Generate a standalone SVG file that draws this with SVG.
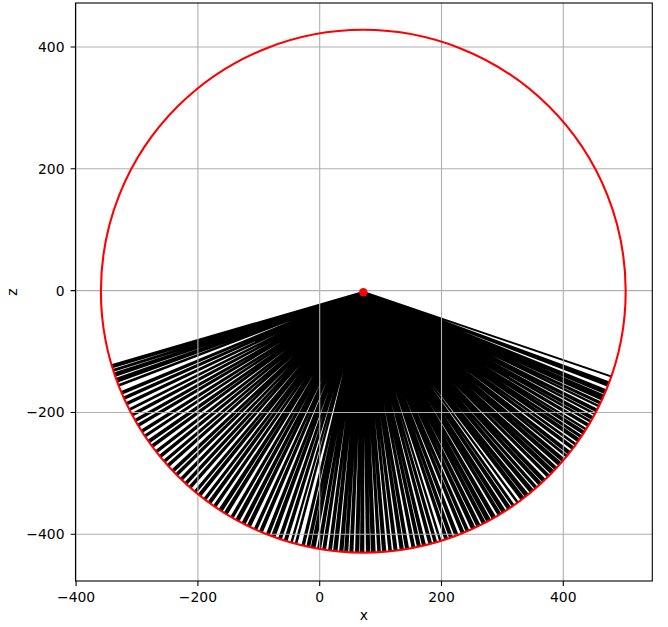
<svg xmlns="http://www.w3.org/2000/svg" xmlns:xlink="http://www.w3.org/1999/xlink" width="668" height="627" viewBox="0 0 668 627">
<style>
.grid{stroke:#b0b0b0;stroke-width:1.1;fill:none}
.tick{stroke:#000;stroke-width:1.1}
.lbl{font-family:"DejaVu Sans",Verdana,sans-serif;font-size:13.9px;fill:#000}
</style>
<defs>
<clipPath id="cc"><ellipse cx="363.3" cy="291.2" rx="262.4" ry="261.4"/></clipPath>
<polygon id="a30" points="191,0 600,2.14 600,-2.14"/>
<polygon id="a35" points="163.7,0 600,2.67 600,-2.67"/>
<polygon id="a40" points="143.2,0 600,3.19 600,-3.19"/>
<polygon id="a45" points="127.3,0 600,3.71 600,-3.71"/>
<polygon id="a50" points="114.6,0 600,4.24 600,-4.24"/>
<polygon id="a55" points="104.2,0 600,4.76 600,-4.76"/>
<polygon id="a60" points="95.5,0 600,5.28 600,-5.28"/>
<polygon id="a70" points="81.9,0 600,6.33 600,-6.33"/>
<polygon id="a75" points="76.4,0 600,6.85 600,-6.85"/>
</defs>
<rect width="668" height="627" fill="#fff"/>
<g id="fan" clip-path="url(#cc)">
<path d="M363.3,292 L623.6,380.6 A275,275 0 0 1 99.2,368.7 Z" fill="#000" stroke="#000" stroke-width="2" stroke-linejoin="round"/>
<g transform="translate(363.3 292)" fill="#fff">
<use href="#a70" transform="rotate(19.5)"/>
<use href="#a55" transform="rotate(21.5)"/>
<use href="#a30" transform="rotate(23)"/>
<use href="#a35" transform="rotate(24.6)"/>
<use href="#a30" transform="rotate(25.5)"/>
<use href="#a40" transform="rotate(26.3)"/>
<use href="#a30" transform="rotate(27.4)"/>
<use href="#a40" transform="rotate(28.2)"/>
<use href="#a30" transform="rotate(29.3)"/>
<use href="#a35" transform="rotate(30.1)"/>
<use href="#a40" transform="rotate(31.2)"/>
<use href="#a30" transform="rotate(32)"/>
<use href="#a35" transform="rotate(33.1)"/>
<use href="#a30" transform="rotate(34)"/>
<use href="#a40" transform="rotate(35.2)"/>
<use href="#a35" transform="rotate(36.1)"/>
<use href="#a45" transform="rotate(37.3)"/>
<use href="#a30" transform="rotate(38.5)"/>
<use href="#a40" transform="rotate(39.4)"/>
<use href="#a30" transform="rotate(40.6)"/>
<use href="#a40" transform="rotate(41.9)"/>
<use href="#a30" transform="rotate(43)"/>
<use href="#a35" transform="rotate(44.3)"/>
<use href="#a45" transform="rotate(45.5)"/>
<use href="#a30" transform="rotate(46.8)"/>
<use href="#a40" transform="rotate(48)"/>
<use href="#a35" transform="rotate(49.1)"/>
<use href="#a40" transform="rotate(50.5)"/>
<use href="#a30" transform="rotate(51.8)"/>
<use href="#a50" transform="rotate(53.2)"/>
<use href="#a50" transform="rotate(54.3)"/>
<use href="#a35" transform="rotate(55.4)"/>
<use href="#a40" transform="rotate(56.7)"/>
<use href="#a30" transform="rotate(58)"/>
<use href="#a45" transform="rotate(59.2)"/>
<use href="#a35" transform="rotate(60.6)"/>
<use href="#a30" transform="rotate(61.9)"/>
<use href="#a40" transform="rotate(63.1)"/>
<use href="#a35" transform="rotate(64.4)"/>
<use href="#a45" transform="rotate(65.8)"/>
<use href="#a35" transform="rotate(67)"/>
<use href="#a50" transform="rotate(68.3)"/>
<use href="#a40" transform="rotate(69.7)"/>
<use href="#a35" transform="rotate(70.9)"/>
<use href="#a55" transform="rotate(72.2)"/>
<use href="#a45" transform="rotate(73.3)"/>
<use href="#a40" transform="rotate(74.5)"/>
<use href="#a50" transform="rotate(75.8)"/>
<use href="#a35" transform="rotate(77.1)"/>
<use href="#a40" transform="rotate(78.3)"/>
<use href="#a50" transform="rotate(79.6)"/>
<use href="#a35" transform="rotate(80.9)"/>
<use href="#a45" transform="rotate(82.2)"/>
<use href="#a40" transform="rotate(83.5)"/>
<use href="#a45" transform="rotate(84.7)"/>
<use href="#a35" transform="rotate(86)"/>
<use href="#a40" transform="rotate(87.1)"/>
<use href="#a30" transform="rotate(88.4)"/>
<use href="#a40" transform="rotate(89.6)"/>
<use href="#a30" transform="rotate(90.8)"/>
<use href="#a40" transform="rotate(92)"/>
<use href="#a35" transform="rotate(93.2)"/>
<use href="#a30" transform="rotate(94.3)"/>
<use href="#a40" transform="rotate(95.5)"/>
<use href="#a35" transform="rotate(96.8)"/>
<use href="#a45" transform="rotate(98)"/>
<use href="#a35" transform="rotate(99.2)"/>
<use href="#a40" transform="rotate(100.4)"/>
<use href="#a30" transform="rotate(101.7)"/>
<use href="#a40" transform="rotate(102.8)"/>
<use href="#a70" transform="rotate(104.2)"/>
<use href="#a45" transform="rotate(105.5)"/>
<use href="#a55" transform="rotate(106.6)"/>
<use href="#a45" transform="rotate(108)"/>
<use href="#a55" transform="rotate(109.4)"/>
<use href="#a40" transform="rotate(110.9)"/>
<use href="#a60" transform="rotate(112.3)"/>
<use href="#a45" transform="rotate(113.8)"/>
<use href="#a60" transform="rotate(115.2)"/>
<use href="#a40" transform="rotate(116.7)"/>
<use href="#a50" transform="rotate(118.1)"/>
<use href="#a45" transform="rotate(119.6)"/>
<use href="#a60" transform="rotate(121)"/>
<use href="#a40" transform="rotate(122.5)"/>
<use href="#a55" transform="rotate(124)"/>
<use href="#a50" transform="rotate(125.4)"/>
<use href="#a45" transform="rotate(126.8)"/>
<use href="#a55" transform="rotate(128.1)"/>
<use href="#a40" transform="rotate(129.5)"/>
<use href="#a60" transform="rotate(130.8)"/>
<use href="#a45" transform="rotate(132.2)"/>
<use href="#a50" transform="rotate(133.5)"/>
<use href="#a55" transform="rotate(134.9)"/>
<use href="#a40" transform="rotate(136.2)"/>
<use href="#a60" transform="rotate(137.6)"/>
<use href="#a45" transform="rotate(139)"/>
<use href="#a55" transform="rotate(140.3)"/>
<use href="#a50" transform="rotate(141.7)"/>
<use href="#a60" transform="rotate(143.1)"/>
<use href="#a45" transform="rotate(144.5)"/>
<use href="#a55" transform="rotate(145.9)"/>
<use href="#a50" transform="rotate(147.2)"/>
<use href="#a60" transform="rotate(148.6)"/>
<use href="#a45" transform="rotate(150)"/>
<use href="#a55" transform="rotate(151.3)"/>
<use href="#a50" transform="rotate(152.7)"/>
<use href="#a60" transform="rotate(154)"/>
<use href="#a50" transform="rotate(155.4)"/>
<use href="#a45" transform="rotate(156.7)"/>
<use href="#a75" transform="rotate(158.3)"/>
<use href="#a40" transform="rotate(159.6)"/>
<use href="#a35" transform="rotate(161)"/>
<use href="#a30" transform="rotate(162.2)"/>
<use href="#a30" transform="rotate(163)"/>
</g>
</g>
<g id="grid" class="grid">
<path d="M76.1,3V581M197.9,3V581M319.7,3V581M441.5,3V581M563.3,3V581"/>
<path d="M75.5,47H652.3M75.5,168.8H652.3M75.5,290.65H652.3M75.5,412.5H652.3M75.5,534.3H652.3"/>
</g>
<g id="circle"><ellipse cx="363.3" cy="291.2" rx="262.4" ry="261.4" fill="none" stroke="#ff0000" stroke-width="2.1"/></g>
<g id="center"><circle cx="363.3" cy="292.3" r="4.2" fill="#ff0000"/></g>
<g id="axes">
<rect x="75.5" y="3" width="576.8" height="578" fill="none" stroke="#000" stroke-width="1.1"/>
<path class="tick" d="M76.1,581v4.9M197.9,581v4.9M319.7,581v4.9M441.5,581v4.9M563.3,581v4.9M75.5,47h-4.9M75.5,168.8h-4.9M75.5,290.65h-4.9M75.5,412.5h-4.9M75.5,534.3h-4.9"/>
<g class="lbl" text-anchor="middle">
<text x="76.1" y="601.5">−400</text>
<text x="197.9" y="601.5">−200</text>
<text x="319.7" y="601.5">0</text>
<text x="441.5" y="601.5">200</text>
<text x="563.3" y="601.5">400</text>
<text x="363.9" y="620">x</text>
<text transform="translate(17.3 292) rotate(-90)">z</text>
</g>
<g class="lbl" text-anchor="end">
<text x="64.5" y="51.8">400</text>
<text x="64.5" y="173.6">200</text>
<text x="64.5" y="295.5">0</text>
<text x="64.5" y="417.3">−200</text>
<text x="64.5" y="539.1">−400</text>
</g>
</g>
</svg>
